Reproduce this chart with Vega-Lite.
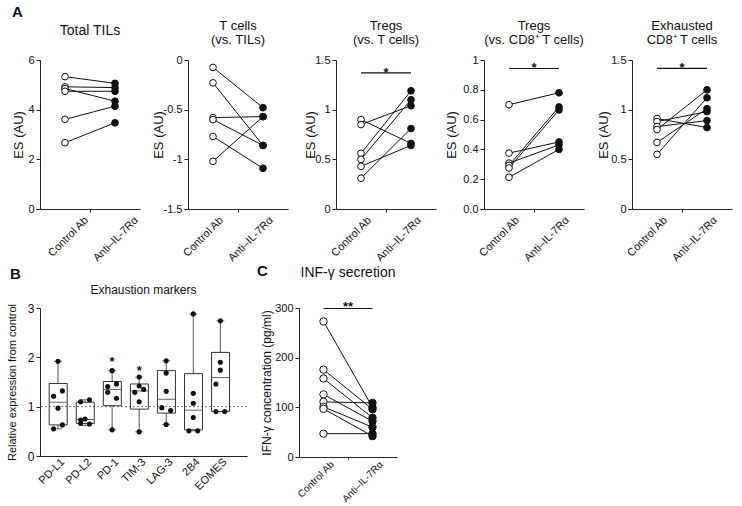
{
  "$schema": "https://vega.github.io/schema/vega-lite/v6.json",
  "padding": {"left": 6, "top": 5, "right": 5, "bottom": 0},
  "background": "white",
  "config": {
    "view": {"stroke": null},
    "font": "Liberation Sans",
    "axis": {"domainColor": "#222", "tickColor": "#222", "labelColor": "#111", "titleColor": "#111", "labelFont": "Liberation Sans", "titleFont": "Liberation Sans", "labelFontSize": 11, "titleFontSize": 13, "titleFontWeight": "normal", "grid": false, "tickSize": 4, "labelPadding": 2},
    "title": {"font": "Liberation Sans", "fontSize": 13, "fontWeight": "normal", "color": "#111", "lineHeight": 14, "baseline": "bottom"}
  },
  "datasets": {
    "boxes": [
      {"marker": "PD-L1", "min": 0.55, "q1": 0.63, "med": 1.09, "q3": 1.47, "max": 1.92},
      {"marker": "PD-L2", "min": 0.62, "q1": 0.66, "med": 0.74, "q3": 1.09, "max": 1.14},
      {"marker": "PD-1", "min": 0.53, "q1": 1.02, "med": 1.35, "q3": 1.51, "max": 1.73},
      {"marker": "TIM-3", "min": 0.49, "q1": 0.95, "med": 1.32, "q3": 1.46, "max": 1.60},
      {"marker": "LAG-3", "min": 0.64, "q1": 0.87, "med": 1.15, "q3": 1.73, "max": 1.93},
      {"marker": "2B4", "min": 0.51, "q1": 0.53, "med": 0.93, "q3": 1.67, "max": 2.88},
      {"marker": "EOMES", "min": 0.90, "q1": 0.90, "med": 1.59, "q3": 2.10, "max": 2.74}
    ],
    "pts": [
      {"marker": "PD-L1", "value": 1.92, "slot": "C"}, {"marker": "PD-L1", "value": 1.32, "slot": "R"}, {"marker": "PD-L1", "value": 1.21, "slot": "L"}, {"marker": "PD-L1", "value": 0.97, "slot": "C"}, {"marker": "PD-L1", "value": 0.63, "slot": "R"}, {"marker": "PD-L1", "value": 0.55, "slot": "L"},
      {"marker": "PD-L2", "value": 1.14, "slot": "R"}, {"marker": "PD-L2", "value": 1.10, "slot": "L"}, {"marker": "PD-L2", "value": 0.75, "slot": "C"}, {"marker": "PD-L2", "value": 0.73, "slot": "L"}, {"marker": "PD-L2", "value": 0.66, "slot": "L"}, {"marker": "PD-L2", "value": 0.65, "slot": "R"},
      {"marker": "PD-1", "value": 1.73, "slot": "C"}, {"marker": "PD-1", "value": 1.46, "slot": "R"}, {"marker": "PD-1", "value": 1.41, "slot": "L"}, {"marker": "PD-1", "value": 1.29, "slot": "L"}, {"marker": "PD-1", "value": 1.17, "slot": "R"}, {"marker": "PD-1", "value": 0.53, "slot": "C"},
      {"marker": "TIM-3", "value": 1.60, "slot": "C"}, {"marker": "TIM-3", "value": 1.42, "slot": "C"}, {"marker": "TIM-3", "value": 1.35, "slot": "R"}, {"marker": "TIM-3", "value": 1.29, "slot": "L"}, {"marker": "TIM-3", "value": 1.10, "slot": "C"}, {"marker": "TIM-3", "value": 0.49, "slot": "C"},
      {"marker": "LAG-3", "value": 1.93, "slot": "C"}, {"marker": "LAG-3", "value": 1.68, "slot": "C"}, {"marker": "LAG-3", "value": 1.31, "slot": "C"}, {"marker": "LAG-3", "value": 0.98, "slot": "L"}, {"marker": "LAG-3", "value": 0.92, "slot": "R"}, {"marker": "LAG-3", "value": 0.64, "slot": "C"},
      {"marker": "2B4", "value": 2.88, "slot": "C"}, {"marker": "2B4", "value": 1.27, "slot": "C"}, {"marker": "2B4", "value": 1.07, "slot": "C"}, {"marker": "2B4", "value": 0.78, "slot": "C"}, {"marker": "2B4", "value": 0.51, "slot": "L"}, {"marker": "2B4", "value": 0.51, "slot": "R"},
      {"marker": "EOMES", "value": 2.74, "slot": "C"}, {"marker": "EOMES", "value": 1.90, "slot": "C"}, {"marker": "EOMES", "value": 1.74, "slot": "C"}, {"marker": "EOMES", "value": 1.46, "slot": "L"}, {"marker": "EOMES", "value": 0.90, "slot": "L"}, {"marker": "EOMES", "value": 0.90, "slot": "R"}
    ]
  },
  "vconcat": [
    {
      "title": {"text": "A", "anchor": "start", "frame": "bounds", "fontSize": 15, "fontWeight": "bold", "offset": 0},
      "bounds": "flush",
      "spacing": 48,
      "hconcat": [
        {
          "width": 100, "height": 149,
          "title": {"text": "Total TILs", "fontSize": 14, "offset": 16},
          "data": {"values": [
            {"pair": 1, "group": "Control Ab", "value": 5.33}, {"pair": 1, "group": "Anti–IL-7Rα", "value": 5.06},
            {"pair": 2, "group": "Control Ab", "value": 4.92}, {"pair": 2, "group": "Anti–IL-7Rα", "value": 4.89},
            {"pair": 3, "group": "Control Ab", "value": 4.85}, {"pair": 3, "group": "Anti–IL-7Rα", "value": 4.34},
            {"pair": 4, "group": "Control Ab", "value": 4.74}, {"pair": 4, "group": "Anti–IL-7Rα", "value": 4.74},
            {"pair": 5, "group": "Control Ab", "value": 3.61}, {"pair": 5, "group": "Anti–IL-7Rα", "value": 4.14},
            {"pair": 6, "group": "Control Ab", "value": 2.67}, {"pair": 6, "group": "Anti–IL-7Rα", "value": 3.47}
          ]},
          "encoding": {
            "x": {"field": "group", "type": "nominal", "scale": {"type": "point", "domain": ["Control Ab", " ", "Anti–IL-7Rα"], "padding": 1.38},
                  "axis": {"title": null, "labelAngle": -45, "labelOffset": 17, "tickSize": 3, "tickOpacity": {"condition": {"test": "datum.value === ' '", "value": 1}, "value": 0}}},
            "y": {"field": "value", "type": "quantitative", "scale": {"domain": [0, 6], "nice": false},
                  "axis": {"title": "ES (AU)", "values": [0, 2, 4, 6], "labelExpr": "'' + datum.value", "titleX": -22, "titleY": 74.5, "titleBaseline": "middle"}}
          },
          "layer": [
            {"mark": {"type": "line", "color": "#111", "strokeWidth": 1}, "encoding": {"detail": {"field": "pair"}}},
            {"mark": {"type": "point", "shape": "circle", "filled": true, "size": 45, "stroke": "#111", "strokeWidth": 1, "opacity": 1},
             "encoding": {"fill": {"field": "group", "type": "nominal", "scale": {"domain": ["Control Ab", "Anti–IL-7Rα"], "range": ["#ffffff", "#111111"]}, "legend": null}}}
          ]
        },
        {
          "width": 100, "height": 149,
          "title": {"text": ["T cells", "(vs. TILs)"], "offset": 7},
          "data": {"values": [
            {"pair": 1, "group": "Control Ab", "value": -0.075}, {"pair": 1, "group": "Anti–IL-7Rα", "value": -0.48},
            {"pair": 2, "group": "Control Ab", "value": -0.23}, {"pair": 2, "group": "Anti–IL-7Rα", "value": -0.86},
            {"pair": 3, "group": "Control Ab", "value": -0.58}, {"pair": 3, "group": "Anti–IL-7Rα", "value": -0.57},
            {"pair": 4, "group": "Control Ab", "value": -0.60}, {"pair": 4, "group": "Anti–IL-7Rα", "value": -0.86},
            {"pair": 5, "group": "Control Ab", "value": -0.77}, {"pair": 5, "group": "Anti–IL-7Rα", "value": -1.09},
            {"pair": 6, "group": "Control Ab", "value": -1.02}, {"pair": 6, "group": "Anti–IL-7Rα", "value": -0.57}
          ]},
          "encoding": {
            "x": {"field": "group", "type": "nominal", "scale": {"type": "point", "domain": ["Control Ab", " ", "Anti–IL-7Rα"], "padding": 1.38},
                  "axis": {"title": null, "labelAngle": -45, "labelOffset": 4, "tickSize": 3, "tickOpacity": {"condition": {"test": "datum.value === ' '", "value": 1}, "value": 0}}},
            "y": {"field": "value", "type": "quantitative", "scale": {"domain": [-1.5, 0], "nice": false},
                  "axis": {"title": "ES (AU)", "values": [-1.5, -1, -0.5, 0], "labelExpr": "'' + datum.value", "titleX": -30, "titleY": 74.5, "titleBaseline": "middle"}}
          },
          "layer": [
            {"mark": {"type": "line", "color": "#111", "strokeWidth": 1}, "encoding": {"detail": {"field": "pair"}}},
            {"mark": {"type": "point", "shape": "circle", "filled": true, "size": 45, "stroke": "#111", "strokeWidth": 1, "opacity": 1},
             "encoding": {"fill": {"field": "group", "type": "nominal", "scale": {"domain": ["Control Ab", "Anti–IL-7Rα"], "range": ["#ffffff", "#111111"]}, "legend": null}}}
          ]
        },
        {
          "width": 100, "height": 149,
          "title": {"text": ["Tregs", "(vs. T cells)"], "offset": 7},
          "data": {"values": [
            {"pair": 1, "group": "Control Ab", "value": 0.90}, {"pair": 1, "group": "Anti–IL-7Rα", "value": 0.66},
            {"pair": 2, "group": "Control Ab", "value": 0.85}, {"pair": 2, "group": "Anti–IL-7Rα", "value": 1.04},
            {"pair": 3, "group": "Control Ab", "value": 0.56}, {"pair": 3, "group": "Anti–IL-7Rα", "value": 1.19},
            {"pair": 4, "group": "Control Ab", "value": 0.50}, {"pair": 4, "group": "Anti–IL-7Rα", "value": 1.10},
            {"pair": 5, "group": "Control Ab", "value": 0.43}, {"pair": 5, "group": "Anti–IL-7Rα", "value": 0.64},
            {"pair": 6, "group": "Control Ab", "value": 0.31}, {"pair": 6, "group": "Anti–IL-7Rα", "value": 0.81}
          ]},
          "encoding": {
            "x": {"field": "group", "type": "nominal", "scale": {"type": "point", "domain": ["Control Ab", " ", "Anti–IL-7Rα"], "padding": 1.38},
                  "axis": {"title": null, "labelAngle": -45, "labelOffset": 4, "tickSize": 3, "tickOpacity": {"condition": {"test": "datum.value === ' '", "value": 1}, "value": 0}}},
            "y": {"field": "value", "type": "quantitative", "scale": {"domain": [0, 1.5], "nice": false},
                  "axis": {"title": "ES (AU)", "values": [0, 0.5, 1, 1.5], "labelExpr": "'' + datum.value", "titleX": -26, "titleY": 74.5, "titleBaseline": "middle"}}
          },
          "layer": [
            {"mark": {"type": "line", "color": "#111", "strokeWidth": 1}, "encoding": {"detail": {"field": "pair"}}},
            {"mark": {"type": "point", "shape": "circle", "filled": true, "size": 45, "stroke": "#111", "strokeWidth": 1, "opacity": 1},
             "encoding": {"fill": {"field": "group", "type": "nominal", "scale": {"domain": ["Control Ab", "Anti–IL-7Rα"], "range": ["#ffffff", "#111111"]}, "legend": null}}},
            {"data": {"values": [{"group": "Control Ab", "group2": "Anti–IL-7Rα", "value": 1.37}]},
             "mark": {"type": "rule", "color": "#111", "strokeWidth": 1.2}, "encoding": {"x2": {"field": "group2"}}},
            {"data": {"values": [{"group": " ", "value": 1.37, "label": "*"}]},
             "mark": {"type": "text", "fontSize": 13, "fontWeight": "bold", "baseline": "middle", "color": "#111"}, "encoding": {"text": {"field": "label"}}}
          ]
        },
        {
          "width": 100, "height": 149,
          "title": {"text": ["Tregs", "(vs. CD8⁺ T cells)"], "offset": 7},
          "data": {"values": [
            {"pair": 1, "group": "Control Ab", "value": 0.70}, {"pair": 1, "group": "Anti–IL-7Rα", "value": 0.78},
            {"pair": 2, "group": "Control Ab", "value": 0.375}, {"pair": 2, "group": "Anti–IL-7Rα", "value": 0.45},
            {"pair": 3, "group": "Control Ab", "value": 0.308}, {"pair": 3, "group": "Anti–IL-7Rα", "value": 0.43},
            {"pair": 4, "group": "Control Ab", "value": 0.293}, {"pair": 4, "group": "Anti–IL-7Rα", "value": 0.685},
            {"pair": 5, "group": "Control Ab", "value": 0.275}, {"pair": 5, "group": "Anti–IL-7Rα", "value": 0.665},
            {"pair": 6, "group": "Control Ab", "value": 0.213}, {"pair": 6, "group": "Anti–IL-7Rα", "value": 0.40}
          ]},
          "encoding": {
            "x": {"field": "group", "type": "nominal", "scale": {"type": "point", "domain": ["Control Ab", " ", "Anti–IL-7Rα"], "padding": 1.38},
                  "axis": {"title": null, "labelAngle": -45, "labelOffset": 4, "tickSize": 3, "tickOpacity": {"condition": {"test": "datum.value === ' '", "value": 1}, "value": 0}}},
            "y": {"field": "value", "type": "quantitative", "scale": {"domain": [0, 1], "nice": false},
                  "axis": {"title": "ES (AU)", "values": [0, 0.2, 0.4, 0.6, 0.8, 1], "labelExpr": "datum.value == 1 ? '1' : format(datum.value, '.1f')", "titleX": -33, "titleY": 74.5, "titleBaseline": "middle"}}
          },
          "layer": [
            {"mark": {"type": "line", "color": "#111", "strokeWidth": 1}, "encoding": {"detail": {"field": "pair"}}},
            {"mark": {"type": "point", "shape": "circle", "filled": true, "size": 45, "stroke": "#111", "strokeWidth": 1, "opacity": 1},
             "encoding": {"fill": {"field": "group", "type": "nominal", "scale": {"domain": ["Control Ab", "Anti–IL-7Rα"], "range": ["#ffffff", "#111111"]}, "legend": null}}},
            {"data": {"values": [{"group": "Control Ab", "group2": "Anti–IL-7Rα", "value": 0.943}]},
             "mark": {"type": "rule", "color": "#111", "strokeWidth": 1.2}, "encoding": {"x2": {"field": "group2"}}},
            {"data": {"values": [{"group": " ", "value": 0.943, "label": "*"}]},
             "mark": {"type": "text", "fontSize": 13, "fontWeight": "bold", "baseline": "middle", "color": "#111"}, "encoding": {"text": {"field": "label"}}}
          ]
        },
        {
          "width": 100, "height": 149,
          "title": {"text": ["Exhausted", "CD8⁺ T cells"], "offset": 7},
          "data": {"values": [
            {"pair": 1, "group": "Control Ab", "value": 0.91}, {"pair": 1, "group": "Anti–IL-7Rα", "value": 0.82},
            {"pair": 2, "group": "Control Ab", "value": 0.88}, {"pair": 2, "group": "Anti–IL-7Rα", "value": 0.98},
            {"pair": 3, "group": "Control Ab", "value": 0.83}, {"pair": 3, "group": "Anti–IL-7Rα", "value": 0.89},
            {"pair": 4, "group": "Control Ab", "value": 0.80}, {"pair": 4, "group": "Anti–IL-7Rα", "value": 1.20},
            {"pair": 5, "group": "Control Ab", "value": 0.67}, {"pair": 5, "group": "Anti–IL-7Rα", "value": 1.01},
            {"pair": 6, "group": "Control Ab", "value": 0.55}, {"pair": 6, "group": "Anti–IL-7Rα", "value": 1.12}
          ]},
          "encoding": {
            "x": {"field": "group", "type": "nominal", "scale": {"type": "point", "domain": ["Control Ab", " ", "Anti–IL-7Rα"], "padding": 1.38},
                  "axis": {"title": null, "labelAngle": -45, "labelOffset": 4, "tickSize": 3, "tickOpacity": {"condition": {"test": "datum.value === ' '", "value": 1}, "value": 0}}},
            "y": {"field": "value", "type": "quantitative", "scale": {"domain": [0, 1.5], "nice": false},
                  "axis": {"title": "ES (AU)", "values": [0, 0.5, 1, 1.5], "labelExpr": "'' + datum.value", "titleX": -29, "titleY": 74.5, "titleBaseline": "middle"}}
          },
          "layer": [
            {"mark": {"type": "line", "color": "#111", "strokeWidth": 1}, "encoding": {"detail": {"field": "pair"}}},
            {"mark": {"type": "point", "shape": "circle", "filled": true, "size": 45, "stroke": "#111", "strokeWidth": 1, "opacity": 1},
             "encoding": {"fill": {"field": "group", "type": "nominal", "scale": {"domain": ["Control Ab", "Anti–IL-7Rα"], "range": ["#ffffff", "#111111"]}, "legend": null}}},
            {"data": {"values": [{"group": "Control Ab", "group2": "Anti–IL-7Rα", "value": 1.416}]},
             "mark": {"type": "rule", "color": "#111", "strokeWidth": 1.2}, "encoding": {"x2": {"field": "group2"}}},
            {"data": {"values": [{"group": " ", "value": 1.416, "label": "*"}]},
             "mark": {"type": "text", "fontSize": 13, "fontWeight": "bold", "baseline": "middle", "color": "#111"}, "encoding": {"text": {"field": "label"}}}
          ]
        }
      ]
    },
    {
      "spacing": 9,
      "hconcat": [
        {
          "title": {"text": "B", "anchor": "start", "frame": "group", "fontSize": 15, "fontWeight": "bold", "offset": 2, "dx": -30},
          "vconcat": [
            {
              "width": 207, "height": 148,
              "title": {"text": "Exhaustion markers", "fontSize": 12, "offset": 5},
              "layer": [
                {"data": {"values": [{"ref": 1}]},
                 "mark": {"type": "rule", "strokeDash": [2, 2], "color": "#777", "strokeWidth": 1},
                 "encoding": {"y": {"field": "ref", "type": "quantitative", "scale": {"domain": [0, 3], "nice": false}}}},
                {"data": {"name": "boxes"},
                 "mark": {"type": "rule", "color": "#555", "strokeWidth": 1},
                 "encoding": {
                   "x": {"field": "marker", "type": "nominal"},
                   "y": {"field": "min", "type": "quantitative", "scale": {"domain": [0, 3], "nice": false}},
                   "y2": {"field": "q1"}}},
                {"data": {"name": "boxes"},
                 "mark": {"type": "rule", "color": "#555", "strokeWidth": 1},
                 "encoding": {
                   "x": {"field": "marker", "type": "nominal"},
                   "y": {"field": "q3", "type": "quantitative", "scale": {"domain": [0, 3], "nice": false}},
                   "y2": {"field": "max"}}},
                {"data": {"name": "boxes"},
                 "mark": {"type": "tick", "color": "#333", "size": 8, "thickness": 1},
                 "encoding": {
                   "x": {"field": "marker", "type": "nominal"},
                   "y": {"field": "max", "type": "quantitative", "scale": {"domain": [0, 3], "nice": false}}}},
                {"data": {"name": "boxes"},
                 "mark": {"type": "tick", "color": "#333", "size": 8, "thickness": 1},
                 "encoding": {
                   "x": {"field": "marker", "type": "nominal"},
                   "y": {"field": "min", "type": "quantitative", "scale": {"domain": [0, 3], "nice": false}}}},
                {"data": {"name": "boxes"},
                 "mark": {"type": "bar", "fill": "transparent", "stroke": "#333", "strokeWidth": 1},
                 "encoding": {
                   "x": {"field": "marker", "type": "nominal", "scale": {"domain": ["PD-L1", "PD-L2", "PD-1", "TIM-3", "LAG-3", "2B4", "EOMES"], "paddingInner": 0.35, "paddingOuter": 0.5, "align": 0.34},
                         "axis": {"title": null, "labelAngle": -45, "ticks": false, "labelPadding": 4, "labelOffset": 5, "labelFontSize": 11}},
                   "y": {"field": "q1", "type": "quantitative", "scale": {"domain": [0, 3], "nice": false},
                         "axis": {"title": "Relative expression from control", "titleFontSize": 11, "labelFontSize": 12, "values": [0, 1, 2, 3], "titleX": -28, "titleY": 74, "titleBaseline": "middle"}},
                   "y2": {"field": "q3"}}},
                {"data": {"name": "boxes"},
                 "mark": {"type": "tick", "color": "#222", "size": 17.5, "thickness": 1},
                 "encoding": {
                   "x": {"field": "marker", "type": "nominal"},
                   "y": {"field": "med", "type": "quantitative", "scale": {"domain": [0, 3], "nice": false}}}},
                {"data": {"name": "pts"},
                 "mark": {"type": "point", "shape": "circle", "filled": true, "size": 26, "color": "#111", "opacity": 1},
                 "encoding": {
                   "x": {"field": "marker", "type": "nominal"},
                   "xOffset": {"field": "slot", "type": "nominal", "scale": {"type": "point", "domain": ["L", "C", "R"], "padding": 1.5}},
                   "y": {"field": "value", "type": "quantitative", "scale": {"domain": [0, 3], "nice": false}}}},
                {"data": {"values": [{"marker": "PD-1", "value": 1.98, "label": "*"}, {"marker": "TIM-3", "value": 1.80, "label": "*"}]},
                 "mark": {"type": "text", "fontSize": 13, "fontWeight": "bold", "baseline": "middle", "dy": 4, "color": "#111"},
                 "encoding": {
                   "x": {"field": "marker", "type": "nominal"},
                   "y": {"field": "value", "type": "quantitative", "scale": {"domain": [0, 3], "nice": false}},
                   "text": {"field": "label"}}}
              ]
            }
          ]
        },
        {
          "title": {"text": "C", "anchor": "start", "frame": "group", "fontSize": 15, "fontWeight": "bold", "offset": -13, "dx": -42},
          "vconcat": [
            {
              "width": 98, "height": 149,
              "title": {"text": "INF-γ secretion", "fontSize": 14, "offset": 21},
              "data": {"values": [
                {"pair": 1, "group": "Control Ab", "value": 273}, {"pair": 1, "group": "Anti–IL-7Rα", "value": 100},
                {"pair": 2, "group": "Control Ab", "value": 176}, {"pair": 2, "group": "Anti–IL-7Rα", "value": 96},
                {"pair": 3, "group": "Control Ab", "value": 158}, {"pair": 3, "group": "Anti–IL-7Rα", "value": 79},
                {"pair": 4, "group": "Control Ab", "value": 126}, {"pair": 4, "group": "Anti–IL-7Rα", "value": 72},
                {"pair": 5, "group": "Control Ab", "value": 111}, {"pair": 5, "group": "Anti–IL-7Rα", "value": 109},
                {"pair": 6, "group": "Control Ab", "value": 101}, {"pair": 6, "group": "Anti–IL-7Rα", "value": 60},
                {"pair": 7, "group": "Control Ab", "value": 97}, {"pair": 7, "group": "Anti–IL-7Rα", "value": 42},
                {"pair": 8, "group": "Control Ab", "value": 47}, {"pair": 8, "group": "Anti–IL-7Rα", "value": 47}
              ]},
              "encoding": {
                "x": {"field": "group", "type": "nominal", "scale": {"type": "point", "domain": ["Control Ab", " ", "Anti–IL-7Rα"], "padding": 1.38},
                      "axis": {"title": null, "labelAngle": -45, "labelOffset": 5, "labelFontSize": 10, "labelPadding": 0, "tickSize": 2, "tickOpacity": {"condition": {"test": "datum.value === ' '", "value": 1}, "value": 0}}},
                "y": {"field": "value", "type": "quantitative", "scale": {"domain": [0, 300], "nice": false},
                      "axis": {"title": "IFN-γ concentration (pg/ml)", "titleFontSize": 12, "values": [0, 100, 200, 300], "titleX": -33, "titleY": 74.5, "titleBaseline": "middle"}}
              },
              "layer": [
                {"mark": {"type": "line", "color": "#111", "strokeWidth": 1}, "encoding": {"detail": {"field": "pair"}}},
                {"mark": {"type": "point", "shape": "circle", "filled": true, "size": 55, "stroke": "#111", "strokeWidth": 1, "opacity": 1},
                 "encoding": {"fill": {"field": "group", "type": "nominal", "scale": {"domain": ["Control Ab", "Anti–IL-7Rα"], "range": ["#ffffff", "#111111"]}, "legend": null}}},
                {"data": {"values": [{"group": "Control Ab", "group2": "Anti–IL-7Rα", "value": 299}]},
                 "mark": {"type": "rule", "color": "#111", "strokeWidth": 1.2}, "encoding": {"x2": {"field": "group2"}}},
                {"data": {"values": [{"group": " ", "value": 299, "label": "**"}]},
                 "mark": {"type": "text", "fontSize": 13, "fontWeight": "bold", "baseline": "middle", "dy": -1, "color": "#111"}, "encoding": {"text": {"field": "label"}}}
              ]
            }
          ]
        }
      ]
    }
  ],
  "spacing": 0
}
